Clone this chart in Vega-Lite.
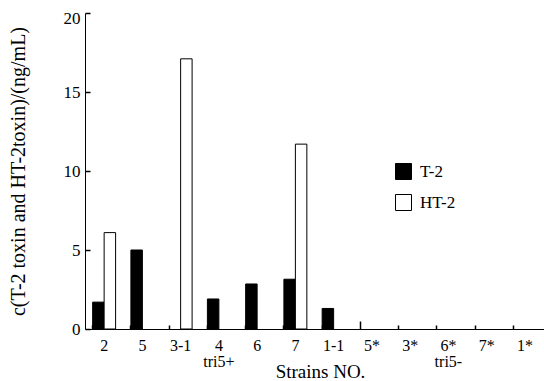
{
  "$schema": "https://vega.github.io/schema/vega-lite/v6.json",
  "autosize": {"type": "none"},
  "padding": {"left": 85, "top": 13, "right": 0, "bottom": 52},
  "width": 459,
  "height": 316,
  "background": "white",
  "config": {
    "view": {"stroke": null},
    "font": "Liberation Serif",
    "axis": {
      "labelFont": "Liberation Serif",
      "titleFont": "Liberation Serif",
      "labelColor": "black",
      "titleColor": "black",
      "domainColor": "black",
      "tickColor": "black",
      "titleFontWeight": "normal",
      "grid": false,
      "domainWidth": 1,
      "tickWidth": 1,
      "zindex": 1
    }
  },
  "data": {
    "values": [
      {"strain": "2", "toxin": "T-2", "value": 1.7},
      {"strain": "2", "toxin": "HT-2", "value": 6.1},
      {"strain": "5", "toxin": "T-2", "value": 5.0},
      {"strain": "3-1", "toxin": "HT-2", "value": 17.1},
      {"strain": "4", "toxin": "T-2", "value": 1.9},
      {"strain": "6", "toxin": "T-2", "value": 2.85},
      {"strain": "7", "toxin": "T-2", "value": 3.15},
      {"strain": "7", "toxin": "HT-2", "value": 11.7},
      {"strain": "1-1", "toxin": "T-2", "value": 1.3}
    ]
  },
  "resolve": {"axis": {"x": "independent", "y": "independent"}},
  "layer": [
    {
      "mark": {"type": "bar", "stroke": "black", "strokeWidth": 1},
      "encoding": {
        "x": {
          "field": "strain",
          "type": "nominal",
          "sort": null,
          "scale": {
            "domain": ["2", "5", "3-1", "4", "6", "7", "1-1", "5*", "3*", "6*", "7*", "1*"],
            "paddingInner": 0.4,
            "paddingOuter": 0.2
          },
          "axis": {
            "orient": "bottom",
            "title": "Strains NO.",
            "labelAngle": 0,
            "ticks": false,
            "labelPadding": 8,
            "labelBaseline": "top",
            "labelFont": "Liberation Serif",
            "labelFontSize": 16,
            "labelLineHeight": 16,
            "labelExpr": "datum.value == '4' ? ['4','tri5+'] : datum.value == '6*' ? ['6*','tri5-'] : datum.value",
            "titleFont": "Liberation Serif",
            "titleFontSize": 19,
            "titleX": 235,
            "titleY": 48,
            "titleBaseline": "alphabetic"
          }
        },
        "xOffset": {
          "field": "toxin",
          "type": "nominal",
          "scale": {"domain": ["T-2", "HT-2"], "paddingInner": 0, "paddingOuter": 0}
        },
        "y": {
          "field": "value",
          "type": "quantitative",
          "scale": {"domain": [0, 20], "nice": false},
          "axis": {
            "orient": "left",
            "title": "c(T-2 toxin and HT-2toxin)/(ng/mL)",
            "values": [0, 5, 10, 15, 20],
            "ticks": false,
            "labelPadding": 5,
            "labelFont": "Liberation Serif",
            "labelFontSize": 17,
            "labelOffset": {"condition": {"test": "datum.value == 20", "value": 5}, "value": 0},
            "titleFont": "Liberation Serif",
            "titleFontSize": 20,
            "titleX": -57,
            "titleY": 158,
            "titleBaseline": "bottom"
          }
        },
        "color": {
          "field": "toxin",
          "type": "nominal",
          "scale": {"domain": ["T-2", "HT-2"], "range": ["black", "white"]},
          "legend": {
            "orient": "none",
            "legendX": 310,
            "legendY": 150,
            "title": null,
            "padding": 0,
            "symbolType": "square",
            "symbolSize": 256,
            "symbolStrokeColor": "black",
            "symbolStrokeWidth": 1,
            "symbolOpacity": 1,
            "labelFont": "Liberation Serif",
            "labelFontSize": 17,
            "labelColor": "black",
            "rowPadding": 10,
            "labelOffset": 8
          }
        }
      }
    },
    {
      "mark": {"type": "bar", "opacity": 0},
      "encoding": {
        "x": {
          "field": "strain",
          "type": "nominal",
          "sort": null,
          "axis": {
            "orient": "top",
            "offset": -316,
            "title": null,
            "labels": false,
            "domain": false,
            "ticks": true,
            "tickColor": "black",
            "tickWidth": 1.5,
            "bandPosition": 0,
            "tickSize": {"condition": {"test": "datum.value == '5*'", "value": 8}, "value": 4}
          }
        },
        "xOffset": {"field": "toxin", "type": "nominal"},
        "y": {
          "field": "value",
          "type": "quantitative",
          "axis": {
            "orient": "right",
            "offset": -459,
            "title": null,
            "labels": false,
            "domain": false,
            "ticks": true,
            "tickColor": "black",
            "tickWidth": 1.5,
            "values": [0, 5, 10, 15, 20],
            "tickSize": 5
          }
        }
      }
    }
  ]
}
